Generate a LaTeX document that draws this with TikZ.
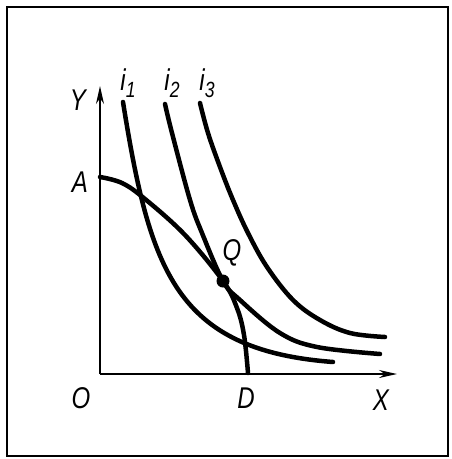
\documentclass[tikz,border=0pt]{standalone}
\usepackage{fontspec}
\setmainfont{Liberation Sans}
\usetikzlibrary{arrows.meta}
\newcommand{\subdig}[1]{\raisebox{-7pt}{\fontsize{22}{22}\selectfont #1}}
\tikzset{
  curve/.style={line width=4.5pt, line cap=round},
  axis/.style={line width=2pt, -{Stealth[length=18pt,width=8pt]}},
  lbl/.style={font=\fontsize{30}{30}\selectfont\itshape, inner sep=0pt, xscale=0.8, transform shape}
}
\begin{document}
\begin{tikzpicture}[x=1pt,y=-1pt]
\useasboundingbox (0,0) rectangle (451,459);
\draw[line width=1.8pt] (7,7) rectangle (448,456);
% axes
\coordinate (O) at (100,374);
\coordinate (ytop) at (100,86);
\coordinate (xend) at (397,374);
\draw[axis] (O) -- (ytop);
\draw[axis] (O) -- (xend);
% PPF
\draw[curve] plot[smooth, tension=0.6] coordinates {(100,177) (122,183) (145,199) (185,235) (223,281) (237,308) (244,335) (248,373)};
% i1
\draw[curve] (123,102) .. controls (150,270) and (175,350) .. (333,362);
% i2
\draw[curve] plot[smooth, tension=0.6] coordinates {(165,104) (172,133) (190,200) (202,233) (223,281) (240,300) (280,333) (317,347) (380,354)};
% i3
\draw[curve] plot[smooth, tension=0.6] coordinates {(200,103) (208,133) (220,167) (233,200) (248,233) (267,267) (293,300) (320,320) (350,333) (385,337)};
% Q
\fill (223,281) circle (6.5);
% labels
\node[lbl] (Y) at (78,100) {Y};
\node[lbl] (A) at (80,182) {A};
\node[lbl] (Ol) at (81,398) {O};
\node[lbl] (D) at (246,398) {D};
\node[lbl] (X) at (381,400) {X};
\node[lbl] (Q) at (232,253) {Q};
\node[lbl] (i1) at (128,83) {i\subdig{1}};
\node[lbl] (i2) at (172,83) {i\subdig{2}};
\node[lbl] (i3) at (207,83) {i\subdig{3}};
\end{tikzpicture}
\end{document}
